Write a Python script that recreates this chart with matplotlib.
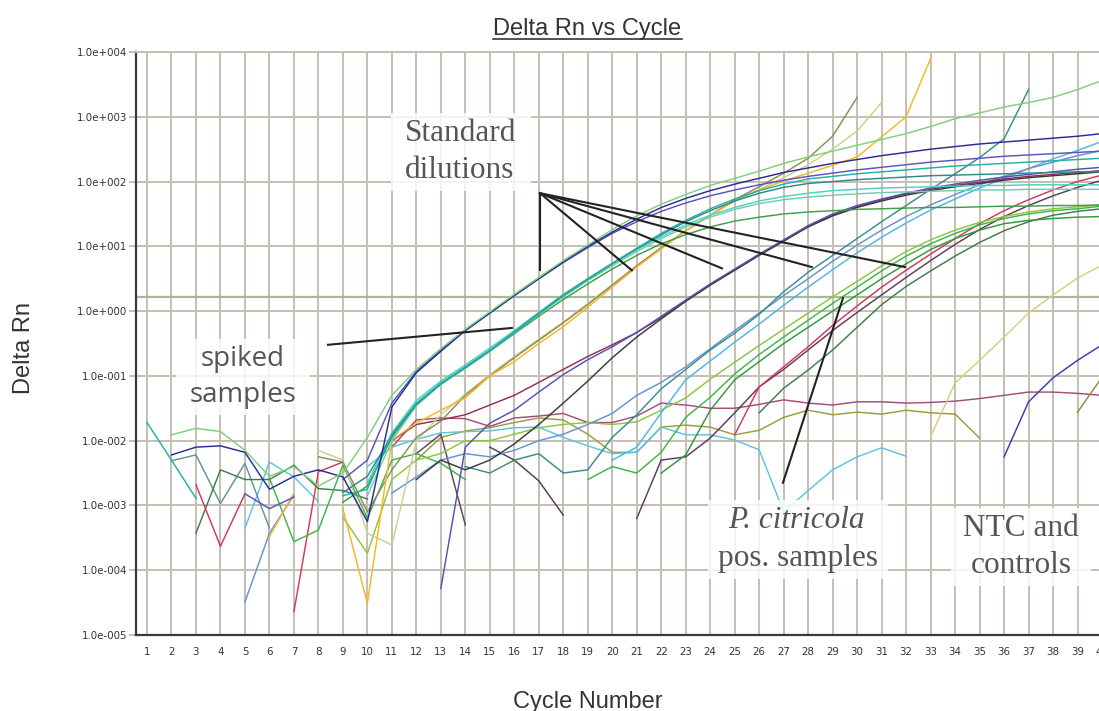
import numpy as np
import matplotlib
matplotlib.use("Agg")
import matplotlib.pyplot as plt
from matplotlib.lines import Line2D
from matplotlib.patches import Rectangle
from matplotlib.ticker import FixedLocator, FuncFormatter

_ = None
cycles = np.arange(1, 41)
decades = np.arange(-5, 5)
threshold_log = 0.216

# log10(Delta Rn) per well, cycles 1..40 (None = no positive reading)
std_green = [_, -1.91, -1.81, -1.86, -2.15, -2.55, -2.40, -2.70, -2.50, -1.95,
             -1.30, -0.90, -0.58, -0.28, -0.01, 0.26, 0.52, 0.78, 1.02, 1.26,
             1.47, 1.65, 1.80, 1.94, 2.05, 2.16, 2.28, 2.38, 2.47, 2.56,
             2.65, 2.74, 2.85, 2.97, 3.06, 3.15, 3.22, 3.30, 3.42, 3.56]
std_navy = [_, -2.22, -2.10, -2.08, -2.18, -2.75, -2.55, -2.45, -2.56, -3.25,
            -1.48, -0.95, -0.62, -0.30, -0.03, 0.24, 0.50, 0.76, 1.00, 1.22,
            1.42, 1.60, 1.74, 1.86, 1.96, 2.05, 2.14, 2.21, 2.28, 2.34,
            2.40, 2.45, 2.50, 2.54, 2.58, 2.61, 2.64, 2.67, 2.70, 2.74]
std_purple = [_, _, _, _, -2.82, -3.05, -2.87, _, -2.60, -2.30,
              -1.42, -0.93, -0.60, -0.30, -0.03, 0.24, 0.50, 0.75, 0.98, 1.20,
              1.38, 1.54, 1.67, 1.78, 1.87, 1.95, 2.02, 2.08, 2.13, 2.18,
              2.22, 2.26, 2.30, 2.33, 2.36, 2.39, 2.41, 2.43, 2.45, 2.47]
spk_teal = [-1.72, -2.30, -2.89, _, _, _, _, _, -2.85, -2.75,
            -1.90, -1.42, -1.11, -0.86, -0.60, -0.32, -0.03, 0.25, 0.50, 0.74,
            0.97, 1.20, 1.40, 1.58, 1.73, 1.86, 1.96, 2.04, 2.08, 2.12,
            2.15, 2.18, 2.21, 2.24, 2.26, 2.28, 2.30, 2.32, 2.34, 2.36]
spk_darkteal = [_, _, _, _, _, _, _, _, -2.80, -2.55,
                -1.92, -1.44, -1.12, -0.87, -0.61, -0.33, -0.04, 0.24, 0.49, 0.73,
                0.96, 1.18, 1.38, 1.55, 1.70, 1.82, 1.91, 1.97, 2.00, 2.03,
                2.05, 2.07, 2.09, 2.10, 2.11, 2.12, 2.13, 2.14, 2.15, 2.15]
spk_turq = [_, _, _, _, _, _, _, _, _, -2.65,
            -1.88, -1.38, -1.08, -0.83, -0.57, -0.30, -0.02, 0.26, 0.50, 0.73,
            0.95, 1.15, 1.33, 1.48, 1.60, 1.70, 1.77, 1.82, 1.86, 1.88,
            1.90, 1.91, 1.92, 1.93, 1.94, 1.94, 1.95, 1.95, 1.95, 1.95]
spk_aqua = [_, _, _, _, _, _, _, _, _, -2.85,
            -2.00, -1.46, -1.13, -0.88, -0.62, -0.34, -0.05, 0.22, 0.47, 0.70,
            0.92, 1.12, 1.30, 1.45, 1.57, 1.66, 1.72, 1.76, 1.79, 1.81,
            1.83, 1.84, 1.85, 1.86, 1.87, 1.87, 1.88, 1.88, 1.88, 1.88]
spk_green = [_, _, _, _, _, _, _, _, -2.95, -2.70,
             -1.95, -1.45, -1.13, -0.88, -0.62, -0.35, -0.08, 0.18, 0.42, 0.65,
             0.86, 1.04, 1.18, 1.30, 1.39, 1.45, 1.50, 1.53, 1.55, 1.57,
             1.58, 1.59, 1.60, 1.60, 1.61, 1.62, 1.62, 1.63, 1.63, 1.64]
std_yellow = [_, _, _, _, _, -3.48, -2.81, _, -3.05, -4.51,
              -1.99, -1.73, -1.53, -1.34, -1.00, -0.78, -0.50, -0.24, 0.06, 0.37,
              0.68, 0.96, 1.24, 1.48, 1.70, 1.87, 2.01, 2.13, 2.25, 2.38,
              2.69, 3.00, 3.90, _, _, _, _, _, _, _]
khaki_dark = [_, _, _, _, _, _, _, -2.25, -2.33, -3.10,
              -2.45, -1.95, -1.70, -1.30, -1.00, -0.72, -0.45, -0.18, 0.10, 0.40,
              0.70, 0.98, 1.24, 1.48, 1.72, 1.92, 2.13, 2.36, 2.70, 3.30,
              _, _, _, _, _, _, _, _, _, _]
khaki_light = [_, _, _, _, _, _, _, -2.15, -2.30, -3.43,
               -3.61, -2.00, -1.60, -1.28, -0.98, -0.70, -0.43, -0.17, 0.12, 0.41,
               0.70, 0.98, 1.24, 1.48, 1.70, 1.88, 2.06, 2.26, 2.50, 2.78,
               3.22, _, _, _, _, _, _, _, _, _]
std_purple2 = [_, _, _, _, _, _, _, _, _, _,
               _, _, -4.28, -2.10, -1.73, -1.53, -1.25, -0.98, -0.75, -0.55,
               -0.33, -0.08, 0.17, 0.42, 0.65, 0.88, 1.10, 1.32, 1.50, 1.63,
               1.73, 1.82, 1.90, 1.96, 2.02, 2.07, 2.11, 2.15, 2.19, 2.22]
std_dark = [_, _, _, _, _, _, _, _, _, _,
            _, -2.60, -2.30, -2.45, -2.30, -2.05, -1.75, -1.42, -1.08, -0.72,
            -0.40, -0.12, 0.15, 0.40, 0.63, 0.86, 1.08, 1.30, 1.47, 1.60,
            1.70, 1.79, 1.86, 1.92, 1.97, 2.02, 2.06, 2.09, 2.12, 2.15]
std_maroon = [_, _, _, _, _, _, _, _, _, _,
              -2.00, -1.75, -1.68, -1.60, -1.45, -1.30, -1.10, -0.90, -0.70, -0.52,
              -0.33, -0.10, 0.16, 0.41, 0.64, 0.87, 1.09, 1.31, 1.48, 1.61,
              1.72, 1.81, 1.88, 1.94, 1.99, 2.04, 2.08, 2.11, 2.14, 2.17]
ctrl_maroon = [_, _, _, _, _, _, _, _, _, _,
               -2.10, -1.68, -1.65, -1.66, -1.78, -1.65, -1.62, -1.58, -1.72, -1.72,
               -1.62, -1.42, -1.45, -1.50, -1.50, -1.44, -1.37, -1.42, -1.45, -1.40,
               -1.40, -1.42, -1.41, -1.39, -1.35, -1.30, -1.25, -1.25, -1.27, -1.30]
ctrl_olive = [_, _, _, _, _, _, _, _, _, _,
              _, -2.30, -1.95, -1.85, -1.80, -1.72, -1.65, -1.68, -1.90, -2.18,
              -2.18, -1.79, -1.76, -1.79, -1.91, -1.84, -1.64, -1.53, -1.60, -1.56,
              -1.59, -1.53, -1.57, -1.59, -1.96, _, _, _, _, _]
ctrl_sky = [_, _, _, _, -3.35, -2.33, -2.56, -2.94, _, -2.40,
            -2.10, -1.98, -1.88, -1.86, -1.85, -1.80, -1.79, -1.95, -2.08, -2.20,
            -2.18, -1.79, -1.91, -1.91, -1.99, -2.14, -3.10, -2.77, -2.45, -2.25,
            -2.11, -2.24, _, _, _, _, _, _, _, _]
std_teal_late = [_, _, _, _, _, _, _, _, _, _,
                 _, _, _, -2.40, -2.50, -2.30, -2.20, -2.50, -2.45, -1.95,
                 -1.60, -1.20, -0.90, -0.60, -0.34, -0.05, 0.30, 0.60, 0.86, 1.12,
                 1.38, 1.63, 1.88, 2.12, 2.37, 2.66, 3.42, _, _, _]
std_blue = [_, _, _, _, -4.49, -3.43, -2.84, _, _, _,
            -2.81, -2.56, -2.30, -2.20, -2.25, -2.15, -2.00, -1.90, -1.75, -1.58,
            -1.30, -1.10, -0.86, -0.58, -0.30, -0.03, 0.24, 0.50, 0.77, 1.02,
            1.25, 1.46, 1.64, 1.80, 1.95, 2.08, 2.20, 2.30, 2.40, 2.48]
std_lightblue = [_, _, _, _, _, _, _, _, _, _,
                 _, _, _, _, _, _, _, _, _, -2.30,
                 -2.10, -1.57, -1.06, -0.77, -0.48, -0.20, 0.09, 0.37, 0.64, 0.90,
                 1.14, 1.36, 1.56, 1.73, 1.90, 2.05, 2.20, 2.35, 2.48, 2.62]
pc_yellowgreen = [_, _, _, _, _, _, _, _, -3.18, -3.74,
                  -2.60, -2.30, -2.20, -2.00, -2.00, -1.90, -1.80, -1.75, -1.72, -1.75,
                  -1.71, -1.53, -1.34, -1.05, -0.79, -0.53, -0.28, -0.03, 0.22, 0.46,
                  0.70, 0.92, 1.10, 1.25, 1.37, 1.46, 1.53, 1.58, 1.61, 1.64]
pc_green = [_, _, _, _, _, -2.58, -3.56, -3.38, -2.38, -3.20,
            -2.30, -2.20, -2.35, -2.60, _, _, _, _, -2.60, -2.40,
            -2.50, -2.18, -1.64, -1.33, -0.97, -0.67, -0.40, -0.14, 0.12, 0.37,
            0.62, 0.85, 1.04, 1.20, 1.33, 1.43, 1.50, 1.55, 1.58, 1.62]
pc_green2 = [_, _, _, _, _, _, _, _, _, _,
             _, _, _, _, _, _, _, _, _, _,
             _, -2.50, -2.22, -1.53, -1.06, -0.78, -0.50, -0.25, 0.00, 0.25,
             0.50, 0.73, 0.95, 1.12, 1.25, 1.35, 1.40, 1.43, 1.45, 1.46]
pc_red = [_, _, -2.68, -3.63, -2.82, _, -4.64, -2.48, -2.33, _,
          _, _, _, _, _, _, _, _, _, _,
          _, _, _, _, -1.91, -1.17, -0.86, -0.55, -0.22, 0.08,
          0.37, 0.63, 0.88, 1.12, 1.35, 1.55, 1.72, 1.87, 2.00, 2.10]
pc_plum = [_, _, _, _, _, _, _, _, _, _,
           _, _, _, _, _, _, _, _, _, _,
           -3.20, -2.30, -2.25, -1.96, -1.57, -1.17, -0.90, -0.60, -0.30, -0.02,
           0.25, 0.52, 0.78, 1.03, 1.26, 1.46, 1.63, 1.78, 1.91, 2.02]
pc_darkgreen = [_, _, -3.43, -2.45, -2.60, -2.60, -2.38, -2.74, -2.77, -2.90,
                _, _, _, _, _, _, _, _, _, _,
                _, _, _, _, _, -1.57, -1.19, -0.91, -0.60, -0.25,
                0.10, 0.38, 0.62, 0.85, 1.06, 1.24, 1.38, 1.48, 1.54, 1.58]
ntc_khaki = [_] * 32 + [-1.94, -1.11, -0.76, -0.40, -0.03, 0.25, 0.51, 0.71]
ntc_navy = [_] * 35 + [-2.25, -1.40, -1.03, -0.76, -0.52]
ntc_olive = [_] * 38 + [-1.56, -1.02]
ntc_greyteal = [_, -2.31, -2.22, -2.97, -2.35, -3.35] + [_] * 34
ntc_brown = [_] * 11 + [-2.20, -1.90, -3.30] + [_] * 26
ntc_brown2 = [_] * 14 + [-2.10, -2.30, -2.62, -3.15] + [_] * 22

wells = [
    (ctrl_maroon, "#a34d78"), (ctrl_olive, "#9b9b40"), (ctrl_sky, "#5cc3e4"),
    (ntc_greyteal, "#5f9595"), (ntc_brown, "#6a4050"), (ntc_brown2, "#5a3a48"),
    (ntc_khaki, "#d3d07a"), (ntc_navy, "#3b3bb5"), (ntc_olive, "#8d8d45"),
    (pc_darkgreen, "#3e7d48"), (pc_plum, "#5e3a5e"), (pc_red, "#d5365e"),
    (pc_green2, "#2f9a3a"), (pc_green, "#3db54a"), (pc_yellowgreen, "#8cc63f"),
    (std_lightblue, "#4db6e8"), (std_blue, "#6492d6"), (std_teal_late, "#3a8c8c"),
    (std_maroon, "#8e2f55"), (std_dark, "#3b3b3b"), (std_purple2, "#5353b3"),
    (khaki_light, "#cfcf92"), (khaki_dark, "#8c8c58"), (std_yellow, "#f6b626"),
    (spk_green, "#3f9f48"), (spk_aqua, "#6fcfb0"), (spk_turq, "#4fd0c4"),
    (spk_darkteal, "#2c8a86"), (spk_teal, "#22b1a6"),
    (std_purple, "#5b53c0"), (std_navy, "#2b2b95"), (std_green, "#7dd17d"),
]

W, H = 1099, 711
fig = plt.figure(figsize=(W / 100, H / 100), dpi=100)
fig.patch.set_facecolor("white")
ax = fig.add_axes([136 / W, 1 - 635 / H, (1115 - 136) / W, (635 - 52) / H])
ax.set_yscale("log")
ax.set_xlim(0.551, 40.53)
ax.set_ylim(1e-5, 1e4)

grid_c = "#c3bfb3"
ax.set_axisbelow(True)
ax.xaxis.set_major_locator(FixedLocator(cycles))
ax.yaxis.set_major_locator(FixedLocator(10.0 ** decades))
ax.yaxis.set_minor_locator(FixedLocator([]))
ax.grid(True, which="major", color=grid_c, lw=1.4)
ax.yaxis.set_major_formatter(FuncFormatter(lambda v, p: "1.0e%+04d" % int(round(np.log10(v)))))
ax.xaxis.set_major_formatter(FuncFormatter(lambda v, p: "%d" % v))
ax.tick_params(axis="x", length=0, pad=8.5, labelsize=7.4, labelcolor="#333333")
ax.tick_params(axis="y", length=5, width=1.4, color=grid_c, pad=1.5,
               labelsize=7.4, labelcolor="#333333")
for s in ("left", "bottom"):
    ax.spines[s].set_color("#3a3a3a")
    ax.spines[s].set_linewidth(1.6)
ax.spines["top"].set_color(grid_c)
ax.spines["top"].set_linewidth(1.4)
ax.spines["right"].set_visible(False)

ax.axhline(10 ** threshold_log, color="#a8b89a", lw=1.6, zorder=1.5)

for vals, col in wells:
    ax.plot(cycles, 10 ** np.array(vals, dtype=float), color=col, lw=1.05, zorder=2)

# callout lines
lc = "#232323"
hub = (17.05, 10 ** 1.82)
for cx, cy in [(17.05, 0.63), (20.8, 0.63), (24.48, 0.66), (28.15, 0.68), (31.95, 0.68)]:
    ax.plot([hub[0], cx], [hub[1], 10 ** cy], color=lc, lw=1.5, zorder=6)
ax.plot([8.39, 15.9], [10 ** -0.52, 10 ** -0.26], color=lc, lw=1.5, zorder=6)
ax.plot([26.97, 29.42], [10 ** -2.65, 10 ** 0.2], color=lc, lw=1.5, zorder=6)

serif = "Liberation Serif"
tcol = "#555555"
t_std = ax.text(13.82, 10 ** 2.454, "Standard\ndilutions", ha="center", va="center",
                multialignment="left", family=serif, fontsize=22.5, color=tcol,
                linespacing=1.35, zorder=8)
t_spk = ax.text(4.92, 10 ** -1.016, "spiked\nsamples", ha="center", va="center",
                family="Open Sans", fontsize=20, color=tcol, linespacing=1.38, zorder=8)
t_pc1 = ax.text(27.5, 10 ** -3.23, "P. citricola", ha="center", va="center",
                family=serif, style="italic", fontsize=22.5, color=tcol, zorder=8)
t_pc2 = ax.text(27.6, 10 ** -3.82, "pos. samples", ha="center", va="center",
                family=serif, fontsize=22.5, color=tcol, zorder=8)
t_ntc = ax.text(36.7, 10 ** -3.646, "NTC and\ncontrols", ha="center", va="center",
                family=serif, fontsize=22.5, color=tcol, linespacing=1.35, zorder=8)

title = fig.text(587.5 / W, 1 - 35 / H, "Delta Rn vs Cycle", ha="center", va="baseline",
                 family="Liberation Sans", fontsize=17, color="#333333")
fig.text(587.5 / W, 1 - 708 / H, "Cycle Number", ha="center", va="baseline",
         family="Liberation Sans", fontsize=17, color="#333333")
fig.text(24 / W, 1 - 348 / H, "Delta Rn", ha="center", va="center", rotation=90,
         family="Liberation Sans", fontsize=17, color="#333333")

fig.canvas.draw()
r = fig.canvas.get_renderer()

# underline the title
bb = title.get_window_extent(r)
fig.add_artist(Line2D([bb.x0 / W, bb.x1 / W], [(H - 38.5) / H] * 2,
                      color="#222222", lw=1.1, transform=fig.transFigure))

# translucent panels behind the labels
def panel(texts, px=12, py=6):
    bbs = [t.get_window_extent(r) for t in texts]
    x0 = min(b.x0 for b in bbs) - px
    x1 = max(b.x1 for b in bbs) + px
    y0 = min(b.y0 for b in bbs) - py
    y1 = max(b.y1 for b in bbs) + py
    ax.add_patch(Rectangle((x0 / W, y0 / H), (x1 - x0) / W, (y1 - y0) / H,
                           transform=fig.transFigure, facecolor="white",
                           edgecolor="none", alpha=0.82, zorder=7, clip_on=False))

panel([t_std], 14, 6)
panel([t_spk], 14, 6)
panel([t_pc1, t_pc2], 10, 6)
panel([t_ntc], 12, 6)

fig.savefig("out.png", dpi=100, facecolor="white")
